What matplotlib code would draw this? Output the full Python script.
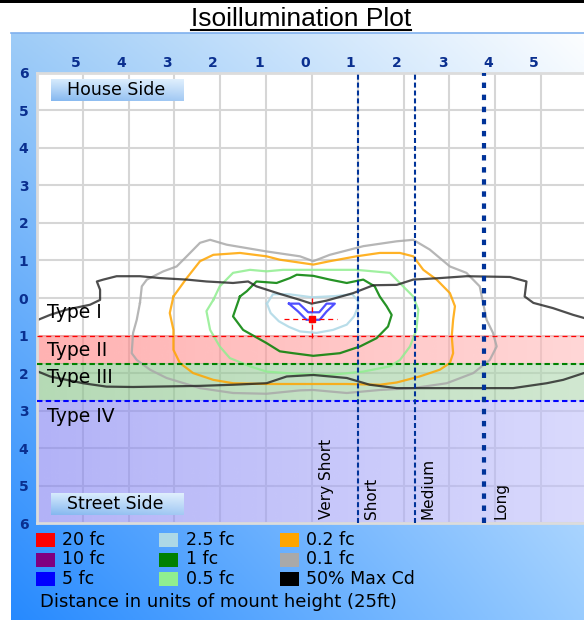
import numpy as np
import matplotlib
matplotlib.use('Agg')
from matplotlib import pyplot as plt
from matplotlib.patches import Rectangle
from matplotlib.lines import Line2D
from matplotlib.transforms import ScaledTranslation

W, H = 584, 620

# distances in mount heights, x across the road, y > 0 house side
x_ticks = [-5, -4, -3, -2, -1, 0, 1, 2, 3, 4, 5]
y_ticks = [-6, -5, -4, -3, -2, -1, 0, 1, 2, 3, 4, 5, 6]

# type boundaries (street side) and throw boundaries
type_edges = [-1.0, -1.75, -2.75, -6.0]
type_names = ['Type I', 'Type II', 'Type III', 'Type IV']
type_label_y = [-0.39, -1.40, -2.13, -3.16]
throw_edges = [1.0, 2.25, 3.75]
throw_names = ['Very Short', 'Short', 'Medium', 'Long']
throw_label_x = [0.32, 1.30, 2.54, 4.12]

# luminaire position
lum_x, lum_y = 0.0, -0.56

# isofootcandle lines
fc5_x = [-0.50, -0.28, -0.08, 0.16, 0.32, 0.50, 0.32, 0.17, -0.12, -0.30, -0.50]
fc5_y = [-0.15, -0.15, -0.38, -0.38, -0.15, -0.15, -0.36, -0.58, -0.58, -0.36, -0.15]

fc2_5_x = [-0.98, -0.85, -0.50, 0.00, 0.50, 0.88, 1.01, 1.00, 0.92, 0.76, 0.46, 0.10,
           -0.26, -0.50, -0.72, -0.90, -0.98]
fc2_5_y = [-0.15, 0.10, 0.10, 0.02, 0.05, 0.10, -0.08, -0.25, -0.49, -0.71, -0.85, -0.93,
           -0.89, -0.77, -0.62, -0.40, -0.15]

fc1_x = [-1.57, -1.42, -1.21, -0.77, -0.48, -0.33, 0.03, 0.39, 0.76, 1.12, 1.37, 1.48, 1.63,
         1.74, 1.66, 1.41, 1.05, 0.61, 0.03, -0.41, -0.70, -0.99, -1.50, -1.72, -1.57]
fc1_y = [0.04, 0.18, 0.44, 0.40, 0.53, 0.62, 0.59, 0.49, 0.40, 0.49, 0.31, 0.04, -0.22,
         -0.45, -0.76, -1.07, -1.29, -1.47, -1.54, -1.47, -1.42, -1.20, -0.85, -0.49, 0.04]

fc0_5_x = [-2.15, -2.01, -1.72, -1.35, -0.99, -0.63, 0.03, 0.97, 1.70, 1.99, 2.21, 2.32, 2.28,
           2.14, 1.92, 1.70, 1.12, 0.39, -0.33, -0.99, -1.35, -1.79, -2.01, -2.22, -2.30, -2.15]
fc0_5_y = [-0.05, 0.31, 0.67, 0.75, 0.71, 0.75, 0.75, 0.75, 0.67, 0.31, 0.04, -0.31, -0.85,
           -1.29, -1.65, -1.82, -1.96, -2.05, -2.02, -1.96, -1.82, -1.60, -1.29, -0.85, -0.35, -0.05]

fc0_2_x = [-3.02, -3.10, -3.02, -3.02, -2.88, -2.59, -2.15, -1.72, -0.99, 0.03, 0.76, 1.48,
           1.85, 2.35, 2.79, 3.01, 3.08, 3.05, 3.08, 3.12, 3.01, 2.72, 2.43, 2.21, 1.92, 1.48,
           0.97, 0.39, 0.03, -0.70, -0.99, -1.57, -2.15, -2.44, -2.73, -3.02]
fc0_2_y = [0.04, -0.40, -0.85, -1.38, -1.73, -2.00, -2.18, -2.27, -2.29, -2.29, -2.29, -2.31,
           -2.25, -2.09, -1.91, -1.73, -1.47, -1.02, -0.58, -0.22, 0.13, 0.49, 0.75, 1.11, 1.20,
           1.20, 1.11, 0.98, 0.89, 1.02, 1.11, 1.20, 1.15, 0.98, 0.53, 0.04]

fc0_1_x = [-3.75, -3.71, -3.60, -3.24, -2.95, -2.73, -2.44, -2.22, -1.86, -0.99, -0.26, 0.03,
           0.39, 1.12, 1.85, 2.21, 2.57, 3.01, 3.37, 3.66, 3.81, 3.95, 4.03, 3.88, 3.52, 2.94,
           2.21, 1.48, 0.76, 0.03, -0.26, -0.99, -1.72, -2.44, -3.17, -3.53, -3.82, -3.93,
           -3.90, -3.82, -3.75]
fc0_1_y = [-0.13, 0.31, 0.49, 0.71, 0.84, 1.11, 1.47, 1.55, 1.42, 1.24, 1.11, 0.98, 1.15,
           1.38, 1.51, 1.55, 1.29, 0.84, 0.67, 0.31, -0.58, -0.93, -1.29, -1.65, -2.00, -2.27,
           -2.40, -2.45, -2.53, -2.45, -2.46, -2.55, -2.53, -2.40, -2.13, -1.91, -1.65, -1.47,
           -0.93, -0.58, -0.13]

cd50_x = [-6.15, -5.97, -5.71, -5.35, -4.84, -4.62, -4.62, -4.69, -4.55, -4.26, -3.75, -3.31,
          -2.73, -2.30, -1.72, -1.39, -1.21, -0.70, -0.26, -0.01, 0.32, 0.90, 1.34, 1.85, 2.21,
          2.79, 3.37, 4.32, 4.68, 4.64, 4.83, 5.26, 5.70, 5.93, 6.17,
          6.17, 5.93, 5.48, 5.12, 4.39, 2.94, 1.85, 1.26, 0.76, 0.03, -0.55, -0.99, -1.72,
          -2.44, -3.90, -4.48, -4.99, -5.35, -5.71, -5.97, -6.15, -6.15]
cd50_y = [-0.63, -0.58, -0.45, -0.31, -0.18, -0.05, 0.22, 0.44, 0.49, 0.58, 0.58, 0.53,
          0.49, 0.44, 0.40, 0.44, 0.31, 0.11, -0.05, -0.15, -0.07, 0.13, 0.34, 0.35, 0.49,
          0.53, 0.58, 0.56, 0.44, 0.04, -0.13, -0.27, -0.45, -0.53, -0.63,
          -1.97, -2.00, -2.18, -2.27, -2.40, -2.40, -2.40, -2.31, -2.13, -2.05, -2.09, -2.27,
          -2.31, -2.34, -2.37, -2.36, -2.27, -2.18, -2.09, -1.96, -1.89, -0.63]

legend_labels = ['20 fc', '10 fc', '5 fc', '2.5 fc', '1 fc', '0.5 fc',
                 '0.2 fc', '0.1 fc', '50% Max Cd']
legend_colors = ['red', 'purple', 'blue', 'lightblue', 'green', 'lightgreen',
                 'orange', 'darkgray', 'black']


def fx(px):
    return px / W


def fy(py):
    return 1 - py / H


def gradient_img(c0, c1, n=200, alpha=1.0):
    t = np.linspace(0, 1, n)[None, :, None]
    rgb = np.array(c0)[None, None, :] * (1 - t) + np.array(c1)[None, None, :] * t
    a = np.full((1, n, 1), alpha)
    return np.concatenate([rgb, a], axis=2)


fig = plt.figure(figsize=(W / 100, H / 100), dpi=100)

# blue panel
bg = fig.add_axes([fx(11), 0, 1 - fx(11), fy(33)])
u = np.linspace(0, 1, 300)[None, :, None]
v = np.linspace(0, 1, 300)[:, None, None]
tl, tr = np.array([0.62, 0.80, 0.97]), np.array([0.99, 0.995, 1.0])
bl, br = np.array([0.15, 0.54, 1.0]), np.array([0.60, 0.80, 1.0])
panel = tl * (1 - u) * (1 - v) + tr * u * (1 - v) + bl * (1 - u) * v + br * u * v
bg.imshow(np.clip(panel, 0, 1), aspect='auto', extent=(0, 1, 0, 1), origin='upper')
bg.axis('off')
fig.add_artist(Line2D([fx(11), 1], [fy(33), fy(33)], color='#7fb0ee', lw=1.2))
fig.add_artist(Rectangle((0, fy(3)), 1, 3 / H, color='black', lw=0))

# title, underlined
title = fig.text(fx(301), fy(26.5), 'Isoillumination Plot', ha='center', va='baseline',
                 fontsize=19, family='Liberation Sans')
fig.canvas.draw()
bb = title.get_window_extent()
fig.add_artist(Line2D([bb.x0 / W, bb.x1 / W], [fy(30), fy(30)], color='black', lw=1.5))

# plot area
ax = fig.add_axes([fx(36.8), fy(523.3), (587 - 36.8) / W, (523.3 - 72.7) / H])
ax.set_facecolor('white')
ax.set_xlim(-6, 6)
ax.set_ylim(-6, 6)
ax.set_xticks(x_ticks)
ax.set_xticklabels([str(abs(t)) for t in x_ticks])
ax.set_yticks(y_ticks)
ax.set_yticklabels([str(abs(t)) for t in y_ticks])
ax.xaxis.tick_top()
ax.tick_params(length=0, colors='#0a2f8f', labelsize=10, pad=2)
ax.tick_params(axis='y', pad=6)
for lab in ax.get_xticklabels() + ax.get_yticklabels():
    lab.set_fontweight('bold')
for lab in ax.get_xticklabels():
    lab.set_transform(lab.get_transform() + ScaledTranslation(-0.07, 0, fig.dpi_scale_trans))
ax.grid(True, color='#d6d6d6', lw=1.5, zorder=0)
ax.set_axisbelow(True)
for s in ax.spines.values():
    s.set_color('#dcdcdc')
    s.set_linewidth(2)

# type bands
band_cols = [((1.0, 0.50, 0.50), (1.0, 0.74, 0.74)),
             ((0.52, 0.76, 0.52), (0.70, 0.85, 0.70)),
             ((0.50, 0.50, 0.95), (0.76, 0.76, 0.985))]
for i, (c0, c1) in enumerate(band_cols):
    ax.imshow(gradient_img(c0, c1, alpha=0.6), aspect='auto',
              extent=(-6, 6, type_edges[i + 1], type_edges[i]), zorder=1)

# isolines
iso = [(fc0_1_x, fc0_1_y, 'darkgray'), (fc0_2_x, fc0_2_y, 'orange'),
       (fc0_5_x, fc0_5_y, 'lightgreen'), (fc1_x, fc1_y, 'green'),
       (fc2_5_x, fc2_5_y, 'lightblue'), (fc5_x, fc5_y, '#3030ff')]
for xs, ys, c in iso:
    ax.plot(xs, ys, color=c, lw=1.6, alpha=0.85, zorder=2)
ax.plot(cd50_x, cd50_y, color='#222222', lw=1.6, alpha=0.8, zorder=2)

# luminaire crosshair
ax.plot([lum_x - 0.6, lum_x + 0.55], [lum_y, lum_y], color='red', lw=0.9, dashes=(4, 3), zorder=3)
ax.plot([lum_x, lum_x], [0.0, -1.06], color='red', lw=0.9, dashes=(4, 3), zorder=3)
ax.plot([lum_x], [lum_y], 's', color='red', ms=4.5, zorder=4)

# type boundaries
ax.axhline(type_edges[0], color='red', lw=0.9, dashes=(4, 3), zorder=3)
ax.axhline(type_edges[1], color='green', lw=1.5, dashes=(2.6, 1.6), zorder=3)
ax.axhline(type_edges[2], color='blue', lw=1.5, dashes=(2.6, 1.6), zorder=3)
for name, y in zip(type_names, type_label_y):
    ax.text(-5.78, y, name, ha='left', va='center', fontsize=13.5, color='black', zorder=5)

# throw boundaries
ax.axvline(throw_edges[0], color='#003399', lw=1.5, dashes=(2.4, 1.4), zorder=3)
ax.axvline(throw_edges[1], color='#003399', lw=1.5, dashes=(2.4, 1.4), zorder=3)
ax.axvline(throw_edges[2], color='#003399', lw=3.0, dashes=(1.3, 1.6), zorder=3)
for name, x in zip(throw_names, throw_label_x):
    ax.text(x, -5.89, name, rotation=90, ha='center', va='bottom', fontsize=11, zorder=5)


def side_box(y0, y1, label):
    bax = fig.add_axes([fx(51), fy(y1), (184 - 51) / W, (y1 - y0) / H])
    t = np.linspace(0, 1, 50)[:, None, None]
    s = np.linspace(0, 1, 100)[None, :, None]
    top, bot = np.array([0.84, 0.92, 0.99]), np.array([0.52, 0.72, 0.94])
    img = top * (1 - t) + bot * t
    img = img + (1 - img) * 0.25 * s
    bax.imshow(np.clip(img, 0, 1), aspect='auto', extent=(0, 1, 0, 1))
    bax.axis('off')
    fig.text(fx(66.7), fy((y0 + y1) / 2), label, ha='left', va='center', fontsize=12.5)


side_box(79.3, 100.7, 'House Side')
side_box(493.3, 515.0, 'Street Side')

# legend
col_x = [36, 159, 280]
row_y = [540, 559.5, 579]
for i, (lab, c) in enumerate(zip(legend_labels, legend_colors)):
    cx, ry = col_x[i // 3], row_y[i % 3]
    fig.add_artist(Rectangle((fx(cx), fy(ry + 7)), 19 / W, 14 / H, color=c, lw=0))
    fig.text(fx(cx + 26.5), fy(ry), lab, ha='left', va='center', fontsize=12.5)
fig.text(fx(40), fy(601.7), 'Distance in units of mount height (25ft)', ha='left',
         va='center', fontsize=13)

plt.savefig('out.png', dpi=100)
plt.close()
